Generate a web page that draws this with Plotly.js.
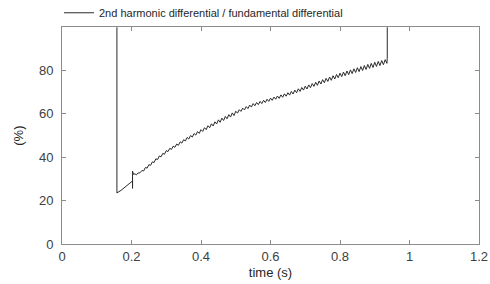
<!DOCTYPE html>
<html>
<head>
<meta charset="utf-8">
<script src="https://cdn.plot.ly/plotly-3.0.1.min.js"></script>
<style>html,body{margin:0;padding:0;background:#fff;}#chart{width:490px;height:284px;}</style>
</head>
<body>
<div id="chart"></div>
<script>
const seriesName = "2nd harmonic differential / fundamental differential";
const xTitle = "time (s)";
const yTitle = "(%)";
const xTickVals = [0, 0.2, 0.4, 0.6, 0.8, 1, 1.2];
const xTickText = ["0", "0.2", "0.4", "0.6", "0.8", "1", "1.2"];
const yTickVals = [0, 20, 40, 60, 80];
const yTickText = ["0", "20", "40", "60", "80"];

const timeS = [
  0.158, 0.158, 0.17, 0.18, 0.19, 0.2, 0.203, 0.203, 0.203, 0.206, 0.21, 0.214, 0.218, 0.224,
  0.23, 0.235, 0.24, 0.245, 0.25, 0.255, 0.26, 0.265, 0.27, 0.275, 0.28, 0.285, 0.29, 0.295,
  0.30, 0.305, 0.31, 0.315, 0.32, 0.325, 0.33, 0.335, 0.34, 0.345, 0.35, 0.355, 0.36, 0.365,
  0.37, 0.375, 0.38, 0.385, 0.39, 0.395, 0.40, 0.405, 0.41, 0.415, 0.42, 0.425, 0.43, 0.435,
  0.44, 0.445, 0.45, 0.455, 0.46, 0.465, 0.47, 0.475, 0.48, 0.485, 0.49, 0.495, 0.50,
  0.505, 0.51, 0.515, 0.52, 0.525, 0.53, 0.535, 0.54, 0.545, 0.55, 0.555, 0.56, 0.565, 0.57,
  0.575, 0.58, 0.585, 0.59, 0.595, 0.60, 0.605, 0.61, 0.615, 0.62, 0.625, 0.63, 0.635, 0.64,
  0.645, 0.65, 0.655, 0.66, 0.665, 0.67, 0.675, 0.68, 0.685, 0.69, 0.695, 0.70, 0.705, 0.71,
  0.715, 0.72, 0.725, 0.73, 0.735, 0.74, 0.745, 0.75, 0.755, 0.76, 0.765, 0.77, 0.775, 0.78,
  0.785, 0.79, 0.795, 0.80, 0.805, 0.81, 0.815, 0.82, 0.825, 0.83, 0.835, 0.84, 0.845, 0.85,
  0.855, 0.86, 0.865, 0.87, 0.875, 0.88, 0.885, 0.89, 0.895, 0.90, 0.905, 0.91, 0.915, 0.92,
  0.925, 0.93, 0.935, 0.936, 0.936
];
const ratioPct = [
  200, 23.5, 24.7, 26.0, 27.3, 28.5, 29.0, 25.6, 33.5, 32.0, 32.3, 31.8, 32.6, 32.7,
  33.8, 33.6, 35.2, 34.9, 36.5, 36.2, 37.8, 37.5, 39.2, 38.8, 40.5, 40.1, 41.7, 41.3,
  43.0, 42.5, 44.0, 43.5, 45.0, 44.5, 46.0, 45.4, 47.0, 46.4, 48.0, 47.4, 49.0, 48.3,
  49.9, 49.2, 50.8, 50.1, 51.7, 50.9, 52.6, 51.8, 53.5, 52.6, 54.4, 53.5, 55.3, 54.3,
  56.2, 55.2, 57.1, 56.0, 57.9, 56.8, 58.7, 57.6, 59.5, 58.4, 60.3, 59.1, 61.1,
  60.2, 61.8, 61.0, 62.5, 61.7, 63.2, 62.3, 63.9, 63.0, 64.6, 63.6, 65.1, 64.1, 65.6,
  64.6, 66.1, 65.1, 66.6, 65.6, 67.1, 66.1, 67.6, 66.6, 68.1, 67.0, 68.6, 67.5, 69.1,
  68.0, 69.6, 68.5, 70.2, 69.0, 70.8, 69.6, 71.4, 70.2, 72.0, 70.8, 72.6, 71.3, 73.2,
  71.9, 73.8, 72.5, 74.4, 73.0, 75.0, 73.6, 75.6, 74.2, 76.2, 74.8, 76.8, 75.3, 77.4,
  75.9, 78.0, 76.5, 78.6, 77.0, 79.1, 77.4, 79.6, 77.9, 80.1, 78.4, 80.6, 78.9, 81.1,
  79.3, 81.6, 79.8, 82.1, 80.3, 82.6, 80.8, 83.1, 81.2, 83.6, 81.7, 84.0, 82.1, 84.4,
  82.5, 84.8, 83.1, 85.3, 200
];

const axisColor = "#8c8c8c";
const tickFontColor = "#404040";

Plotly.newPlot("chart", [{
  x: timeS,
  y: ratioPct,
  type: "scatter",
  mode: "lines",
  name: seriesName,
  line: {color: "#2a2a2a", width: 1},
  showlegend: true
}], {
  width: 490,
  height: 284,
  margin: {l: 62, r: 11, t: 24, b: 40, pad: 0},
  paper_bgcolor: "#ffffff",
  plot_bgcolor: "#ffffff",
  font: {family: "Liberation Sans, Arial, sans-serif", size: 13, color: tickFontColor},
  showlegend: true,
  legend: {
    xref: "container", yref: "container",
    x: 0.1204, y: 0.955, xanchor: "left", yanchor: "middle",
    orientation: "h", bgcolor: "rgba(0,0,0,0)",
    font: {size: 11, color: "#262626"}
  },
  xaxis: {
    range: [0, 1.2],
    tickvals: xTickVals, ticktext: xTickText,
    ticks: "inside", ticklen: 4, tickcolor: axisColor, tickwidth: 1,
    showline: true, linecolor: axisColor, linewidth: 1, mirror: "ticks",
    showgrid: false, zeroline: false,
    tickfont: {size: 13, color: tickFontColor},
    title: {text: xTitle, font: {size: 13, color: "#262626"}, standoff: 5}
  },
  yaxis: {
    range: [0, 99.7],
    tickvals: yTickVals, ticktext: yTickText,
    ticks: "inside", ticklen: 4, tickcolor: axisColor, tickwidth: 1,
    showline: true, linecolor: axisColor, linewidth: 1, mirror: "ticks",
    showgrid: false, zeroline: false,
    tickfont: {size: 13, color: tickFontColor},
    ticklabelstandoff: 5,
    title: {text: yTitle, font: {size: 13, color: "#262626"}, standoff: 12}
  }
}, {displayModeBar: false, staticPlot: true});
</script>
</body>
</html>
